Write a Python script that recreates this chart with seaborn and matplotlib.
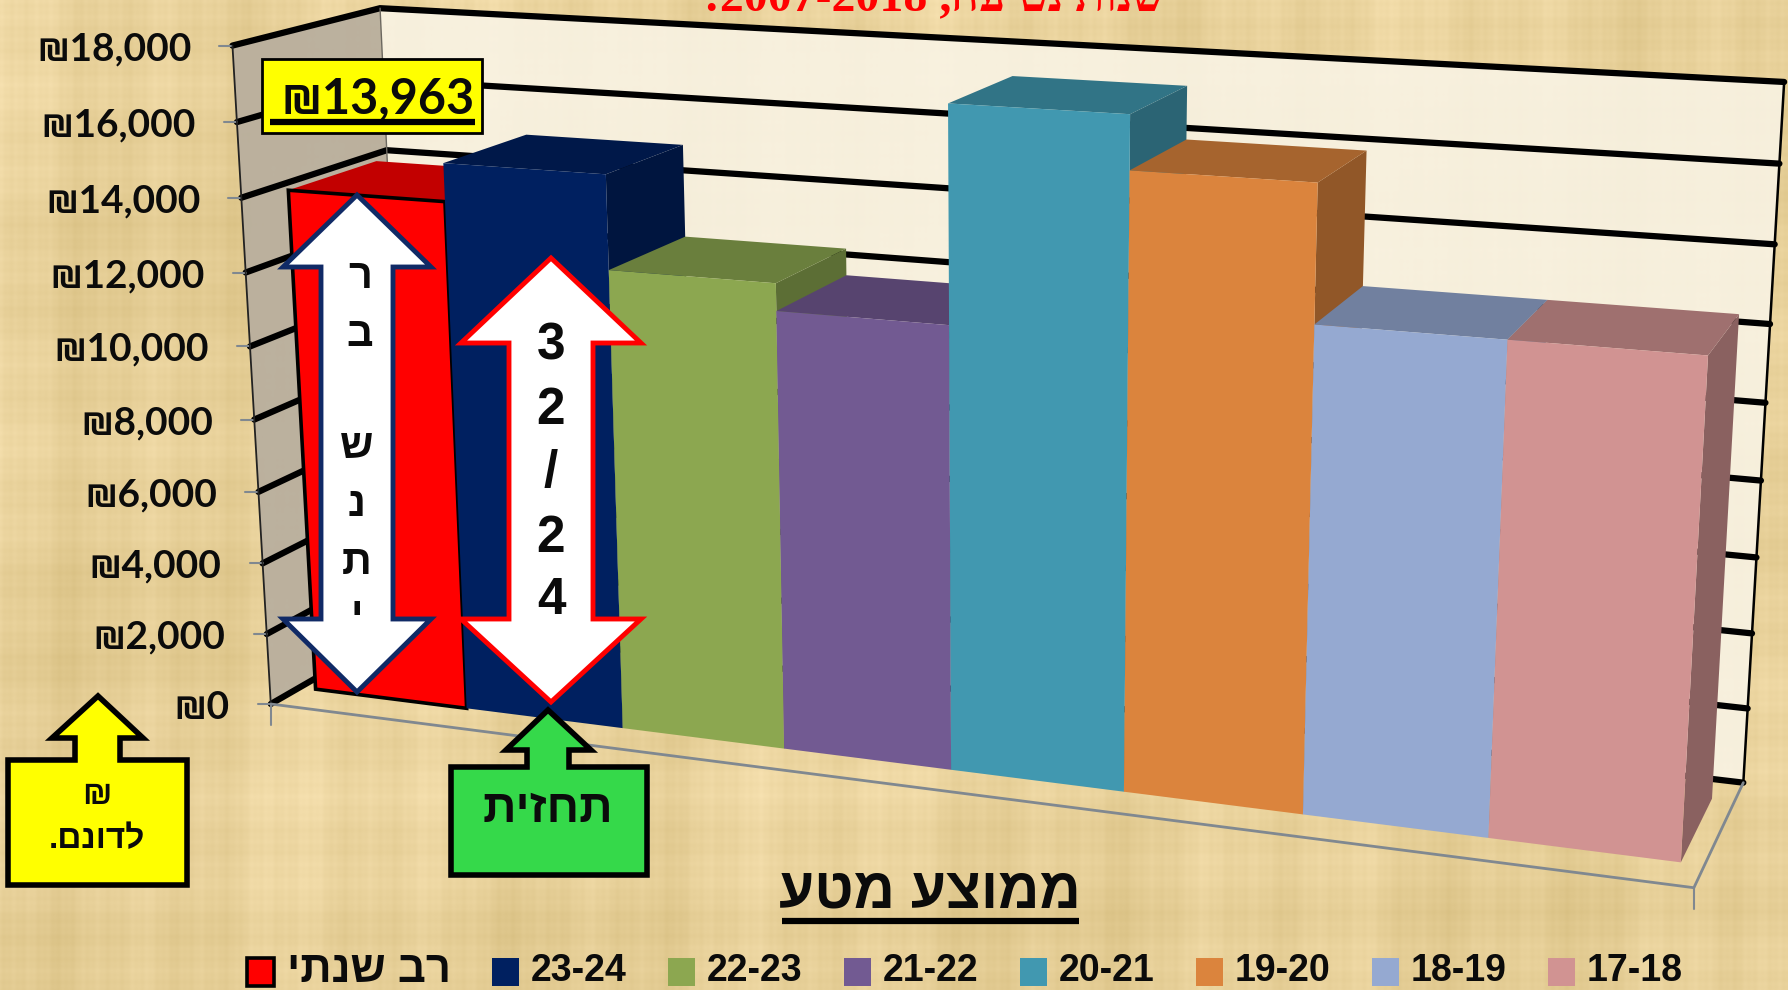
import matplotlib
matplotlib.use('Agg')
import matplotlib.pyplot as plt
import numpy as np
import seaborn as sns
from matplotlib.patches import Polygon
from matplotlib.transforms import Transform

# data
seasons = ['רב שנתי', '23-24', '22-23', '21-22', '20-21', '19-20', '18-19', '17-18']
values = [13963, 14980, 12480, 11760, 17330, 15960, 12510, 12510]
colors = ['#FF0000', '#002060', '#8CA750', '#725A92', '#4198B0', '#DB843D', '#95A9D1', '#D19392']
y_ticks = [0, 2000, 4000, 6000, 8000, 10000, 12000, 14000, 16000, 18000]
left_tick_x = [271, 267, 263, 258, 255, 250, 246, 241, 236, 232]
left_tick_y = [703, 634, 563, 492, 420, 347, 273, 198, 122, 45]
right_tick_x = [1742, 1748, 1752, 1757, 1762, 1766, 1770, 1775, 1779, 1783]
right_tick_y = [783, 708, 633, 557, 481, 403, 324, 245, 163, 82]
callout_value = '₪13,963'

sns.set_theme(style='white')
plt.rcParams['font.family'] = ['Liberation Sans', 'DejaVu Sans']
plt.rcParams['font.weight'] = 'bold'
NUM_FONT = ['Lato', 'Liberation Sans', 'DejaVu Sans']


def rtl(s):
    # matplotlib has no bidi, hebrew goes in visual order
    return s[::-1]


# fit the perspective of the 3d box from its corners
anchors = []
for v, x, y in zip(y_ticks, left_tick_x, left_tick_y):
    anchors.append((0, v / 18000, 0, x, y))
for v, x, y in zip(y_ticks, right_tick_x, right_tick_y):
    anchors.append((1, v / 18000, 1, x, y))
anchors += [(1, 0, 0, 1694, 888), (0, 0, 1, 408, 625), (0, 1, 1, 381, 8), (0, 14000 / 18000, 1, 387, 150)]
rows, rhs = [], []
for u, v, w, x, y in anchors:
    rows.append([u, v, w, 1, 0, 0, 0, 0, -x * u, -x * v, -x * w])
    rhs.append(x)
    rows.append([0, 0, 0, 0, u, v, w, 1, -y * u, -y * v, -y * w])
    rhs.append(y)
p = np.linalg.lstsq(np.array(rows, float), np.array(rhs, float), rcond=None)[0]
P = np.append(p, 1).reshape(3, 4)

GAP_L, GAP_R = 0.105, 0.12
W_FRONT, W_BACK = 0.2, 0.81


def project(c, value, w):
    c = np.asarray(c, float)
    u = (c + 0.5 + GAP_L) / (len(seasons) + GAP_L + GAP_R)
    q = np.stack([u, np.asarray(value, float) / 18000, np.full_like(u, w), np.ones_like(u)])
    o = P @ q
    return np.column_stack([o[0] / o[2], o[1] / o[2]])


class BarFace(Transform):
    input_dims = 2
    output_dims = 2
    has_inverse = False

    def transform_non_affine(self, xy):
        xy = np.asarray(xy, float)
        return project(xy[:, 0], xy[:, 1], W_FRONT)


fig = plt.figure(figsize=(17.88, 9.9), dpi=100)
ax = fig.add_axes([0, 0, 1, 1])

# seaborn bars, bent afterwards into the perspective
sns.barplot(x=seasons, y=values, hue=seasons, palette=colors, order=seasons, hue_order=seasons,
            width=1, dodge=False, saturation=1, legend=False, linewidth=0, ax=ax)
bars = list(ax.patches)
ax.set_xlim(0, 1788)
ax.set_ylim(990, 0)
ax.axis('off')

# papyrus background
yy, xx = np.mgrid[0:990, 0:1788]
tex = np.zeros((990, 1788))
for fx, ph, a in [(0.9, 0.3, 0.8), (0.37, 1.1, 1.2), (0.113, 2.2, 2), (0.041, 0.7, 3), (0.013, 1.9, 3)]:
    tex += a * np.sin(fx * xx + ph + 0.002 * yy)
for fy, ph, a in [(0.83, 0.5, 0.7), (0.29, 2.6, 1), (0.071, 1.4, 2), (0.017, 0.2, 3)]:
    tex += a * np.sin(fy * yy + ph + 0.001 * xx)
base = np.array([232, 209, 154], float)
img = np.clip(base[None, None, :] + tex[:, :, None] * np.array([1, 1.1, 1.5]), 0, 255).astype(np.uint8)
ax.imshow(img, extent=(0, 1788, 990, 0), aspect='auto', zorder=0)
ax.set_xlim(0, 1788)
ax.set_ylim(990, 0)


def box(u, v, w):
    o = P @ np.array([u, v / 18000, w, 1.0])
    return o[0] / o[2], o[1] / o[2]


# walls
ax.add_patch(Polygon([box(0, 0, 0), box(0, 18000, 0), box(0, 18000, 1), box(0, 0, 1)],
                     fc='#B9AF9E', ec='none', alpha=0.95, zorder=1))
ax.add_patch(Polygon([box(0, 0, 1), box(0, 18000, 1), box(1, 18000, 1), box(1, 0, 1)],
                     fc='#F9F4E6', ec='none', alpha=0.88, zorder=1))
for v in y_ticks:
    xs, ys = zip(box(0, v, 0), box(0, v, 1), box(1, v, 1))
    ax.plot(xs, ys, color='black', lw=4.5, zorder=2, solid_joinstyle='miter')
    ax.plot([box(0, v, 0)[0] - 13, box(0, v, 0)[0]], [box(0, v, 0)[1]] * 2, color='#808890', lw=1.5, zorder=3)
    ax.text(box(0, v, 0)[0] - 41, box(0, v, 0)[1] + 3, f'₪{v:,}', ha='right', va='center',
            fontsize=28, fontweight='bold', family=NUM_FONT, color='#0b0b0b', zorder=3)
xs, ys = zip(box(0, 0, 0), box(0, 18000, 0))
ax.plot(xs, ys, color='#222222', lw=1.3, zorder=3)
xs, ys = zip(box(0, 0, 1), box(0, 18000, 1))
ax.plot(xs, ys, color='#6b675f', lw=1, zorder=3)
xs, ys = zip(box(1, 0, 1), box(1, 18000, 1))
ax.plot(xs, ys, color='black', lw=1.8, zorder=3)
xs, ys = zip(box(0, 0, 0), box(1, 0, 0), box(1, 0, 1))
ax.plot(xs, ys, color='#808890', lw=2, zorder=3)
for u in (0, 1):
    x0, y0 = box(u, 0, 0)
    ax.plot([x0, x0], [y0, y0 + 21], color='#808890', lw=1.5, zorder=3)

# bars, left to right so the next one covers the side of the previous one
for i, (bar, col) in enumerate(zip(bars, colors)):
    x0, x1, h = bar.get_x(), bar.get_x() + bar.get_width(), bar.get_height()
    rgb = np.array(matplotlib.colors.to_rgb(col))
    z = 5 + i * 0.1
    fr = project([x1, x1], [0, h], W_FRONT)
    bk = project([x1, x1], [0, h], W_BACK)
    ax.add_patch(Polygon([fr[0], fr[1], bk[1], bk[0]], fc=rgb * 0.66, ec='none', zorder=z))
    top = np.vstack([project([x0, x1], [h, h], W_FRONT), project([x1, x0], [h, h], W_BACK)])
    ax.add_patch(Polygon(top, fc=rgb * 0.76, ec='none', zorder=z))
    bar.set_transform(BarFace() + ax.transData)
    bar.set_clip_on(False)
    bar.set_zorder(z + 0.01)
    if i == 0:
        bar.set_edgecolor('black')
        bar.set_linewidth(2.6)


def shape(points, fc, ec, lw=3.5, zorder=10):
    ax.add_patch(Polygon(points, closed=True, fc=fc, ec=ec, lw=lw, zorder=zorder, joinstyle='miter'))


def double_arrow(cx, top, head1, sx, hx, head2, bottom, ec):
    shape([(cx, top), (cx + hx, head1), (cx + sx, head1), (cx + sx, head2), (cx + hx, head2), (cx, bottom),
           (cx - hx, head2), (cx - sx, head2), (cx - sx, head1), (cx - hx, head1)], 'white', ec)


double_arrow(357, 195, 267, 36, 74, 619, 692, '#102A66')
double_arrow(551, 258, 343, 42, 90, 619, 702, '#FF0000')
for ch, y in zip('רב', [277, 335]):
    ax.text(360, y, ch, ha='center', va='center', fontsize=30, color='#0b0b0b', zorder=11)
for ch, y in zip('שנתי', [447, 505, 563, 615]):
    ax.text(357, y, ch, ha='center', va='center', fontsize=30, color='#0b0b0b', zorder=11)
for ch, y in zip('32/24', [346, 410, 473, 538, 601]):
    ax.text(551, y, ch, ha='center', va='center', fontsize=37, color='#0b0b0b', zorder=11)

# callouts
shape([(98, 696), (143, 738), (120, 738), (120, 760), (187, 760), (187, 885), (8, 885), (8, 760), (75, 760),
       (75, 738), (52, 738)], '#FFFF00', 'black', lw=4)
ax.text(97, 796, '₪', ha='center', va='center', fontsize=24, color='#0b0b0b', zorder=11)
ax.text(97, 840, rtl('לדונם.'), ha='center', va='center', fontsize=24, color='#0b0b0b', zorder=11)
shape([(548, 710), (591, 750), (569, 750), (569, 767), (647, 767), (647, 875), (451, 875), (451, 767), (527, 767),
       (527, 750), (506, 750)], '#35D94A', 'black', lw=4)
ax.text(548, 810, rtl('תחזית'), ha='center', va='center', fontsize=33.5, color='#0b0b0b', zorder=11)

shape([(262, 59), (482, 59), (482, 133), (262, 133)], '#FFFF00', 'black', lw=2)
ax.text(378, 99, callout_value, ha='center', va='center', fontsize=35, fontweight='bold', family=NUM_FONT,
        color='#0b0b0b', zorder=11)
ax.plot([270, 475], [122, 122], color='black', lw=4.5, zorder=11, solid_capstyle='butt')

# axis title
ax.text(930, 892, rtl('ממוצע מטע'), ha='center', va='center', fontsize=41, color='#0b0b0b', zorder=11)
ax.plot([782, 1079], [921, 921], color='black', lw=4.5, zorder=11, solid_capstyle='butt')

# title, cut by the top edge like in the reference
ax.text(935, 10, ':2007-2018' + rtl('שנות נטיעה, '), ha='center', va='baseline', fontsize=34.5,
        family=['Liberation Serif', 'DejaVu Serif'], color='#FF0000', zorder=11)

# legend
swatch_x = [247, 492, 668, 844, 1020, 1196, 1372, 1548]
for i, (name, col, sx) in enumerate(zip(seasons, colors, swatch_x)):
    ax.add_patch(Polygon([(sx, 958), (sx + 27, 958), (sx + 27, 986), (sx, 986)], fc=col,
                         ec='black' if i == 0 else 'none', lw=2.6, zorder=11))
    label = rtl(name) if i == 0 else name
    ax.text(sx + (40 if i == 0 else 39), 971, label, ha='left', va='center', fontsize=31.5 if i == 0 else 27,
            color='#0b0b0b', zorder=11)

fig.savefig('out.png', dpi=100)
